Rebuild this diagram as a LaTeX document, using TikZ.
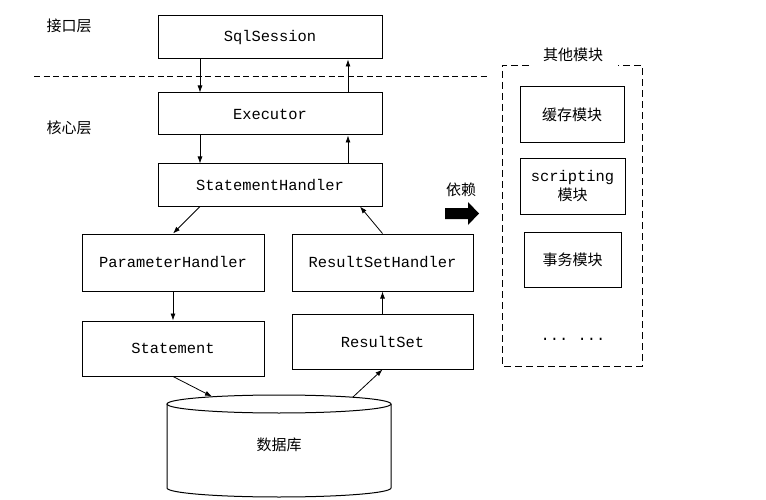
\documentclass[tikz,border=0pt]{standalone}
\usepackage{fontspec}
\setmonofont{Liberation Mono}
\newfontfamily\cjk{Noto Sans CJK SC}
\usetikzlibrary{positioning}
\usetikzlibrary{arrows.meta}

\begin{document}
\begin{tikzpicture}[x=1pt,y=-1pt,
    box/.style={draw,line width=1pt,inner sep=0pt,font=\fontsize{15.4}{18}\selectfont\ttfamily},
    cbox/.style={draw,line width=1pt,inner sep=0pt,align=center,font=\fontsize{15}{19}\selectfont\cjk},
    lbl/.style={font=\fontsize{15}{18}\selectfont\cjk},
    conn/.style={-{Latex[length=7pt,width=5pt]},line width=0.8pt}]
\useasboundingbox (0,0) rectangle (766,500);
\node[lbl] (api) at (69,26) {接口层};
\node[lbl] (core) at (69,128) {核心层};
\draw[line width=0.9pt,dash pattern=on 6pt off 3.5pt] (34,76) -- (487,76);
\node[box,minimum width=224,minimum height=43] (sql) at (270,37.5) {SqlSession};
\node[box,minimum width=224,minimum height=42] (exec) at (270,114) {Executor};
\node[box,minimum width=224,minimum height=42] (sh) at (270,185) {StatementHandler};
\node[box,minimum width=182,minimum height=57] (ph) at (173,262.5) {ParameterHandler};
\node[box,minimum width=181,minimum height=57] (rsh) at (382.5,262.5) {ResultSetHandler};
\node[box,minimum width=182,minimum height=55] (stmt) at (173,348.5) {Statement};
\node[box,minimum width=181,minimum height=55] (rs) at (382.5,341.5) {ResultSet};
\draw[line width=1pt] (279,404) ellipse [x radius=112,y radius=9];
\draw[line width=1pt] (167,404) -- (167,488) arc[start angle=180,end angle=0,x radius=112,y radius=9] -- (391,404);
\node[lbl] (db) at (279,445) {数据库};
\coordinate (dbin) at (212,396.5);
\coordinate (dbout) at (353,397);
\draw[conn] ([xshift=-70pt]sql.south) -- ([xshift=-70pt]exec.north);
\draw[conn] ([xshift=78pt]exec.north) -- ([xshift=78pt]sql.south);
\draw[conn] ([xshift=-70pt]exec.south) -- ([xshift=-70pt]sh.north);
\draw[conn] ([xshift=78pt]sh.north) -- ([xshift=78pt]exec.south);
\draw[conn] ([xshift=-70pt]sh.south) -- (ph.north);
\draw[conn] (rsh.north) -- ([xshift=90pt]sh.south);
\draw[conn] (ph.south) -- (stmt.north);
\draw[conn] (stmt.south) -- (dbin);
\draw[conn] (dbout) -- (rs.south);
\draw[conn] (rs.north) -- (rsh.south);
\node[lbl] (dep) at (461,190) {依赖};
\fill (445,208) -- (468,208) -- (468,202) -- (479,213.5) -- (468,225) -- (468,219) -- (445,219) -- cycle;
\draw[line width=0.9pt,dash pattern=on 7pt off 4pt] (529,65) -- (502,65) -- (502,366) -- (642,366) -- (642,65) -- (618,65);
\node[lbl] (others) at (573,55) {其他模块};
\node[cbox,minimum width=104,minimum height=56] (cache) at (572,115) {缓存模块};
\node[cbox,minimum width=105,minimum height=55] (script) at (572.5,186.5) {{\fontsize{15.4}{19}\selectfont\ttfamily scripting}\\模块};
\node[cbox,minimum width=97,minimum height=55] (tx) at (572.5,259.5) {事务模块};
\node[font=\fontsize{15.4}{18}\selectfont\ttfamily] (more) at (573,339) {... ...};
\end{tikzpicture}
\end{document}
